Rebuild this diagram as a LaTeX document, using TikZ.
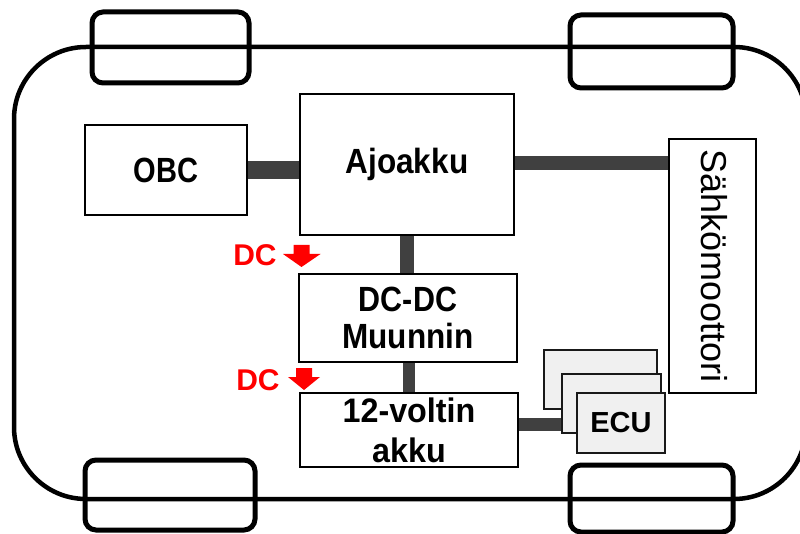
\documentclass[tikz,border=0pt]{standalone}
\usepackage{fontspec}
\setmainfont{Liberation Sans}
\definecolor{busgray}{HTML}{404040}
\definecolor{ecufill}{HTML}{F0F0F0}
\definecolor{dcred}{HTML}{FF0000}
\newcommand\narrowtxt[1]{\scalebox{0.9}[1]{#1}}
\begin{document}
\begin{tikzpicture}[x=1pt,y=-1pt,
  body/.style={draw=black,line width=4.5pt,rounded corners=72pt},
  wheel/.style={draw=black,line width=5pt,rounded corners=11pt},
  box/.style={draw=black,line width=2pt,fill=white,inner sep=0pt,align=center,
    font=\fontsize{35}{37}\selectfont\bfseries},
  ecubox/.style={draw=black!90,line width=2pt,fill=ecufill,inner sep=0pt,
    minimum width=#1},
  bus/.style={draw=busgray,line width=#1},
  dclabel/.style={text=dcred,font=\fontsize{30}{32}\selectfont\bfseries,inner sep=0pt},
  dcarrow/.style={fill=dcred,draw=none}
]
\useasboundingbox (0,0) rectangle (800,534);
\clip (0,0) rectangle (800,534);
% car body
\draw[body] (14,47) rectangle (806,499);
% wheels
\draw[wheel] (92,12) rectangle (249,83);
\draw[wheel] (570,15) rectangle (733,88);
\draw[wheel] (85,460) rectangle (255,530);
\draw[wheel] (570,465) rectangle (733,532);
% boxes
\node[box,minimum width=162,minimum height=90] (obc) at (166,170) {\scalebox{0.83}[1]{OBC}};
\node[box,minimum width=214,minimum height=141] (ajo) at (407,164.5) {\narrowtxt{Ajoakku}};
\node[box,minimum width=218,minimum height=88] (dcdc) at (408,318) {\scalebox{0.87}[1]{DC-DC}\\\narrowtxt{Muunnin}};
\node[box,minimum width=218,minimum height=74,font=\fontsize{34}{40}\selectfont\bfseries] (v12) at (409,430) {\scalebox{0.95}[1]{12-voltin}\\\scalebox{0.95}[1]{akku}};
\node[box,minimum width=87,minimum height=254] (mot) at (712.5,266) {};
\node[rotate=-90,font=\fontsize{36}{40}\selectfont,inner sep=0pt] (motlabel) at ([xshift=2pt]mot.center) {Sähkömoottori};
% ECU stack
\node[ecubox=113,minimum height=59] (ecu3) at (600.5,379.5) {};
\node[ecubox=99,minimum height=59] (ecu2) at (611.5,403.5) {};
\node[ecubox=88,minimum height=60,font=\fontsize{29}{32}\selectfont\bfseries] (ecu1) at (621,423) {ECU};
% connectors
\draw[bus=18pt] (obc.east) -- (obc.east -| ajo.west);
\draw[bus=14pt] ([yshift=1.5pt]ajo.east) -- ([yshift=1.5pt]ajo.east -| mot.west);
\draw[bus=14pt] (ajo.south) -- (ajo.south |- dcdc.north);
\draw[bus=12pt] ([xshift=1pt]dcdc.south) -- ([xshift=1pt]dcdc.south |- v12.north);
\draw[bus=13pt] ([yshift=5.5pt]v12.east) -- ([yshift=5.5pt]v12.east -| ecu2.west);
% DC labels and arrows
\node[dclabel] (dc1) at (255,255) {DC};
\node[dclabel] (dc2) at (258,380) {DC};
\coordinate (a1) at (301.5,245);
\coordinate (a2) at (304,368);
\fill[dcarrow] (a1) ++(-8,0) -- ++(16,0) -- ++(0,9) -- ++(11,0) -- (301.5,267) -- (283,254) -- ++(10.5,0) -- cycle;
\fill[dcarrow] (a2) ++(-8,0) -- ++(16,0) -- ++(0,9) -- ++(8,0) -- (304,390) -- (288,377) -- ++(8,0) -- cycle;
\end{tikzpicture}
\end{document}
